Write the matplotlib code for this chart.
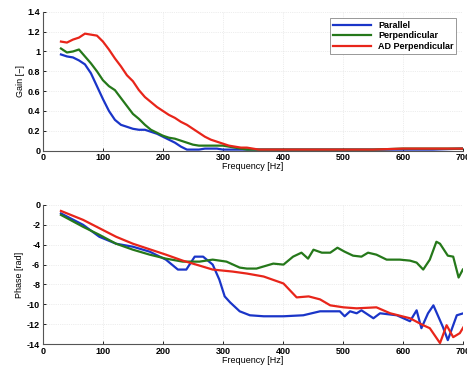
import numpy as np
import matplotlib
matplotlib.use('Agg')
import matplotlib.pyplot as plt
from matplotlib.ticker import FormatStrFormatter

plt.rcParams['font.family'] = ['Liberation Sans', 'DejaVu Sans']
plt.rcParams['font.weight'] = 'bold'
plt.rcParams['axes.unicode_minus'] = False

# gain data (frequency in Hz)
f_gain = [30, 40, 50, 60, 70, 80, 90, 100, 110, 120, 130, 140, 150, 160, 170, 180, 190,
          200, 210, 220, 230, 240, 250, 260, 270, 280, 290, 300, 310, 320, 330, 340, 350,
          360, 380, 400, 450, 500, 550, 600, 650, 700]
gain_par = [0.97, 0.95, 0.94, 0.91, 0.87, 0.78, 0.65, 0.52, 0.40, 0.31, 0.26, 0.24, 0.22,
            0.21, 0.21, 0.19, 0.17, 0.14, 0.11, 0.08, 0.04, 0.01, 0.01, 0.01, 0.02, 0.02,
            0.02, 0.01, 0.01, 0.01, 0.01, 0.01, 0.01, 0.01, 0.01, 0.01, 0.01, 0.01, 0.01,
            0.01, 0.01, 0.02]
gain_perp = [1.03, 0.99, 1.00, 1.02, 0.95, 0.88, 0.80, 0.71, 0.65, 0.61, 0.53, 0.45, 0.37,
             0.32, 0.26, 0.21, 0.18, 0.15, 0.13, 0.12, 0.10, 0.08, 0.06, 0.05, 0.05, 0.05,
             0.05, 0.05, 0.04, 0.03, 0.02, 0.01, 0.01, 0.01, 0.01, 0.01, 0.01, 0.01, 0.01,
             0.02, 0.02, 0.02]
gain_ad = [1.10, 1.09, 1.12, 1.14, 1.18, 1.17, 1.16, 1.10, 1.02, 0.93, 0.85, 0.76, 0.70,
           0.61, 0.54, 0.49, 0.44, 0.40, 0.36, 0.33, 0.29, 0.26, 0.22, 0.18, 0.14, 0.11,
           0.09, 0.07, 0.05, 0.04, 0.03, 0.03, 0.02, 0.01, 0.01, 0.01, 0.01, 0.01, 0.01,
           0.02, 0.02, 0.02]

# phase data
f_ph_par = [30, 67, 94, 122, 150, 178, 205, 225, 239, 253, 267, 283, 294, 303, 312, 328,
            345, 368, 401, 434, 462, 495, 503, 512, 523, 531, 551, 562, 590, 612, 623, 631,
            642, 651, 667, 675, 690, 701]
ph_par = [-0.85, -2.0, -3.2, -3.9, -4.2, -4.7, -5.5, -6.5, -6.5, -5.2, -5.2, -6.0, -7.5,
          -9.2, -9.8, -10.7, -11.1, -11.2, -11.2, -11.1, -10.7, -10.7, -11.2, -10.7, -10.9,
          -10.6, -11.4, -10.9, -11.1, -11.7, -10.6, -12.4, -10.9, -10.1, -12.3, -13.6,
          -11.1, -10.9]
f_ph_perp = [30, 67, 94, 122, 150, 178, 205, 233, 261, 283, 306, 328, 340, 356, 384, 401,
             417, 431, 442, 451, 465, 479, 491, 503, 517, 531, 542, 556, 573, 595, 612, 623,
             634, 645, 656, 662, 675, 684, 693, 700]
ph_perp = [-1.0, -2.2, -3.0, -3.9, -4.5, -5.0, -5.4, -5.7, -5.7, -5.5, -5.7, -6.3, -6.4,
           -6.4, -5.9, -6.0, -5.2, -4.8, -5.4, -4.5, -4.8, -4.8, -4.3, -4.7, -5.1, -5.2,
           -4.8, -5.0, -5.5, -5.5, -5.6, -5.8, -6.5, -5.5, -3.7, -3.9, -5.1, -5.2, -7.3, -6.5]
f_ph_ad = [30, 67, 122, 150, 205, 233, 261, 283, 316, 340, 368, 401, 412, 423, 443, 462,
           479, 501, 523, 556, 579, 612, 634, 645, 662, 673, 684, 695, 703]
ph_ad = [-0.6, -1.5, -3.2, -3.9, -5.0, -5.6, -6.1, -6.5, -6.7, -6.9, -7.2, -7.9, -8.6,
         -9.3, -9.2, -9.5, -10.1, -10.3, -10.4, -10.3, -10.9, -11.4, -12.1, -12.4, -13.9,
         -12.1, -13.3, -12.9, -12.1]

c_par = '#1a35c8'
c_perp = '#25781a'
c_ad = '#e8251a'

fig = plt.figure(figsize=(4.67, 3.70), dpi=100)
ax1 = fig.add_axes([0.092, 0.593, 0.899, 0.375])
ax2 = fig.add_axes([0.092, 0.070, 0.899, 0.376])

ax1.plot(f_gain, gain_par, color=c_par, lw=1.6, label='Parallel')
ax1.plot(f_gain, gain_perp, color=c_perp, lw=1.6, label='Perpendicular')
ax1.plot(f_gain, gain_ad, color=c_ad, lw=1.6, label='AD Perpendicular')
ax1.set_ylim(0, 1.4)
ax1.set_yticks(np.arange(0, 1.41, 0.2))
ax1.set_ylabel('Gain [\u2212]', fontsize=6.5, labelpad=2)
leg = ax1.legend(loc='upper right', fontsize=6.5, fancybox=False, framealpha=1,
                 edgecolor='#888888', handlelength=4.2, borderpad=0.3, labelspacing=0.15,
                 bbox_to_anchor=(0.995, 0.985))
leg.get_frame().set_linewidth(0.6)

ax2.plot(f_ph_par, ph_par, color=c_par, lw=1.6)
ax2.plot(f_ph_perp, ph_perp, color=c_perp, lw=1.6)
ax2.plot(f_ph_ad, ph_ad, color=c_ad, lw=1.6)
ax2.set_ylim(-14, 0)
ax2.set_yticks(np.arange(-14, 0.1, 2))
ax2.set_ylabel('Phase [rad]', fontsize=6.5, labelpad=2)

for ax in (ax1, ax2):
    ax.set_xlim(0, 700)
    ax.set_xticks(np.arange(0, 701, 100))
    ax.set_xlabel('Frequency [Hz]', fontsize=6.5, labelpad=0)
    ax.yaxis.set_major_formatter(FormatStrFormatter('%g'))
    ax.tick_params(direction='in', labelsize=6.5, length=2, width=0.6, pad=2)
    ax.spines['top'].set_visible(False)
    ax.spines['right'].set_visible(False)
    ax.spines['left'].set_color('#555555')
    ax.spines['bottom'].set_color('#555555')
    ax.grid(True, color='#dddddd', linestyle=':', linewidth=0.5)

fig.savefig('out.png', dpi=100)
